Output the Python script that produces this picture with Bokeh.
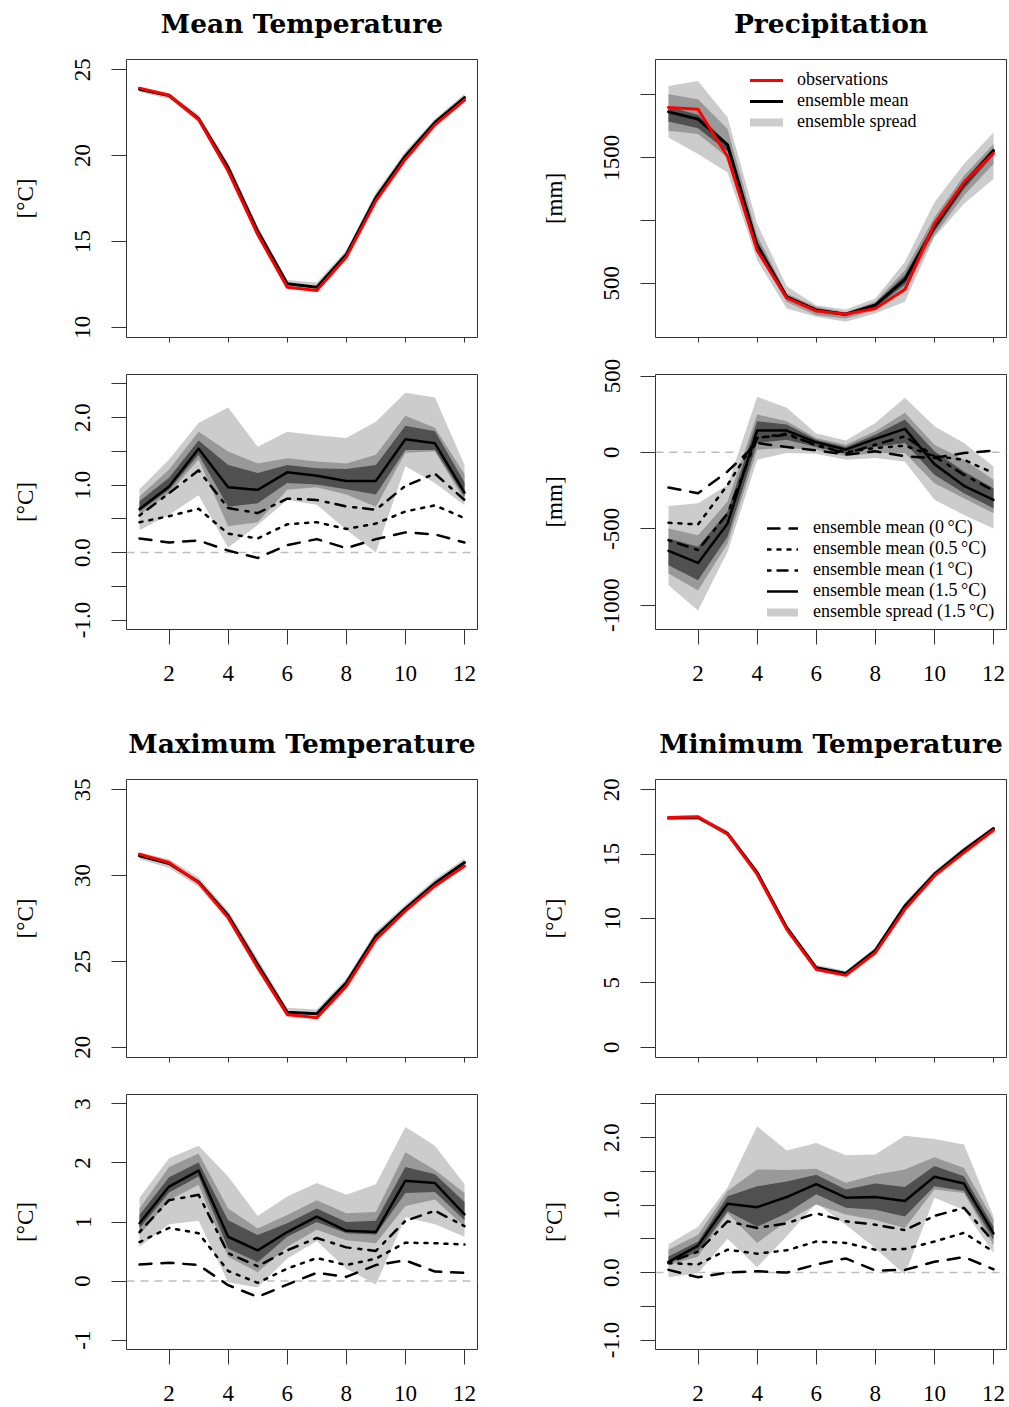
from bokeh.plotting import figure
from bokeh.layouts import column, row
from bokeh.models import Range1d, FixedTicker, Span, Legend, LegendItem
from bokeh.core.properties import value
from bokeh.embed import file_html
from bokeh.resources import INLINE

# ---------------- data ----------------
months = [1, 2, 3, 4, 5, 6, 7, 8, 9, 10, 11, 12]
x_ticks = [2, 4, 6, 8, 10, 12]
x_labels = ["2", "4", "6", "8", "10", "12"]

titles = ["Mean Temperature", "Precipitation", "Maximum Temperature", "Minimum Temperature"]
unit_c = "[°C]"
unit_mm = "[mm]"

# Mean temperature climatology
tmean_obs = [23.93, 23.52, 22.10, 19.10, 15.40, 12.33, 12.14, 14.09, 17.36, 19.79, 21.79, 23.23]
tmean_ens = [23.87, 23.50, 22.15, 19.30, 15.60, 12.53, 12.33, 14.24, 17.55, 19.98, 21.93, 23.38]
tmean_lo = [23.70, 23.30, 21.95, 19.05, 15.35, 12.30, 12.12, 14.05, 17.30, 19.75, 21.75, 23.20]
tmean_hi = [24.00, 23.65, 22.40, 19.60, 15.90, 12.75, 12.60, 14.50, 17.85, 20.25, 22.15, 23.60]
# Mean temperature change
tmean_d00 = [0.21, 0.15, 0.18, 0.03, -0.08, 0.11, 0.20, 0.065, 0.20, 0.30, 0.27, 0.15]
tmean_d05 = [0.45, 0.54, 0.65, 0.28, 0.21, 0.42, 0.45, 0.35, 0.43, 0.61, 0.70, 0.51]
tmean_d10 = [0.55, 0.88, 1.22, 0.66, 0.585, 0.80, 0.78, 0.685, 0.635, 0.99, 1.17, 0.78]
tmean_d15 = [0.645, 0.98, 1.54, 0.97, 0.93, 1.19, 1.14, 1.06, 1.06, 1.68, 1.62, 0.89]
tmean_out_lo = [0.33, 0.56, 0.85, 0.07, 0.41, 0.78, 0.71, 0.34, 0.00, 1.28, 1.03, 0.70]
tmean_out_hi = [0.94, 1.38, 1.92, 2.15, 1.57, 1.79, 1.74, 1.70, 1.94, 2.37, 2.30, 1.30]
tmean_mid_lo = [0.56, 0.88, 1.38, 0.39, 0.45, 0.93, 0.97, 0.86, 0.68, 1.48, 1.50, 0.78]
tmean_mid_hi = [0.83, 1.23, 1.79, 1.50, 1.32, 1.40, 1.35, 1.32, 1.45, 2.03, 1.85, 1.16]
tmean_dk_lo = [0.61, 0.93, 1.45, 0.68, 0.73, 1.03, 1.01, 0.94, 0.86, 1.52, 1.52, 0.83]
tmean_dk_hi = [0.76, 1.11, 1.66, 1.30, 1.18, 1.30, 1.25, 1.24, 1.30, 1.88, 1.80, 1.04]

# Precipitation climatology
pr_obs = [1899, 1886, 1508, 762, 383, 280, 254, 299, 450, 974, 1304, 1534]
pr_ens = [1865, 1807, 1603, 802, 392, 286, 254, 325, 529, 947, 1291, 1556]
pr_out_lo = [1661, 1529, 1383, 683, 299, 233, 193, 260, 352, 867, 1133, 1331]
pr_out_hi = [2071, 2111, 1820, 974, 476, 325, 291, 379, 669, 1145, 1450, 1701]
pr_mid_lo = [1714, 1688, 1502, 748, 350, 246, 220, 286, 444, 880, 1198, 1450]
pr_mid_hi = [2006, 1966, 1728, 881, 418, 312, 270, 352, 603, 1026, 1357, 1609]
pr_dk_lo = [1788, 1735, 1550, 770, 372, 268, 240, 305, 490, 915, 1250, 1520]
pr_dk_hi = [1905, 1841, 1616, 840, 405, 300, 264, 340, 565, 985, 1320, 1580]
# Precipitation change
pr_d00 = [-230, -268, -125, 61, 35, 13, -15, 7, -26, -37, -4, 11]
pr_d05 = [-461, -472, -213, 94, 123, 44, 0, 29, 44, -26, -48, -136]
pr_d10 = [-575, -640, -400, 94, 116, 50, -9, 50, 105, -26, -147, -250]
pr_d15 = [-645, -724, -465, 143, 143, 66, 18, 88, 154, -77, -219, -311]
pr_c_out_lo = [-871, -1035, -651, -48, -4, -9, -48, -37, -59, -311, -410, -498]
pr_c_out_hi = [-351, -333, -213, 364, 292, 123, 77, 193, 357, 171, 61, -92]
pr_c_mid_lo = [-794, -904, -596, 18, 29, 18, -26, -4, -4, -202, -300, -399]
pr_c_mid_hi = [-498, -542, -322, 248, 204, 94, 50, 138, 259, 50, -48, -180]
pr_c_dk_lo = [-739, -838, -553, 61, 83, 35, -9, 35, 61, -147, -268, -366]
pr_c_dk_hi = [-564, -618, -388, 204, 182, 83, 35, 116, 215, 7, -125, -235]

# Maximum temperature climatology
tmax_obs = [31.25, 30.76, 29.59, 27.55, 24.63, 21.91, 21.71, 23.56, 26.28, 27.94, 29.40, 30.56]
tmax_ens = [31.15, 30.70, 29.63, 27.68, 24.82, 22.04, 21.95, 23.75, 26.48, 28.07, 29.55, 30.76]
tmax_lo = [30.95, 30.45, 29.35, 27.35, 24.50, 21.75, 21.70, 23.50, 26.20, 27.85, 29.35, 30.55]
tmax_hi = [31.35, 30.95, 29.90, 27.95, 25.15, 22.30, 22.20, 24.00, 26.75, 28.30, 29.80, 31.00]
# Maximum temperature change
tmax_d00 = [0.28, 0.31, 0.27, -0.07, -0.27, -0.06, 0.14, 0.07, 0.27, 0.35, 0.16, 0.14]
tmax_d05 = [0.66, 0.90, 0.81, 0.17, -0.03, 0.21, 0.39, 0.27, 0.38, 0.65, 0.64, 0.62]
tmax_d10 = [0.83, 1.37, 1.46, 0.47, 0.25, 0.52, 0.73, 0.57, 0.51, 1.02, 1.19, 0.93]
tmax_d15 = [0.98, 1.60, 1.87, 0.75, 0.52, 0.83, 1.09, 0.85, 0.83, 1.70, 1.66, 1.13]
tmax_out_lo = [0.58, 0.96, 1.02, -0.02, -0.11, 0.38, 0.68, 0.21, -0.06, 1.08, 0.96, 0.75]
tmax_out_hi = [1.41, 2.08, 2.29, 1.77, 1.10, 1.43, 1.66, 1.46, 1.64, 2.61, 2.29, 1.64]
tmax_mid_lo = [0.78, 1.37, 1.63, 0.41, 0.15, 0.58, 0.87, 0.69, 0.64, 1.27, 1.38, 0.92]
tmax_mid_hi = [1.23, 1.93, 2.16, 1.23, 0.89, 1.12, 1.37, 1.15, 1.17, 2.18, 1.88, 1.49]
tmax_dk_lo = [0.89, 1.50, 1.77, 0.55, 0.32, 0.75, 1.00, 0.81, 0.79, 1.49, 1.51, 1.03]
tmax_dk_hi = [1.12, 1.76, 2.01, 1.03, 0.78, 0.98, 1.23, 1.00, 1.02, 1.93, 1.81, 1.34]

# Minimum temperature climatology
tmin_obs = [17.85, 17.90, 16.55, 13.44, 9.16, 6.04, 5.58, 7.34, 10.71, 13.31, 15.12, 16.86]
tmin_ens = [17.80, 17.85, 16.60, 13.57, 9.29, 6.17, 5.73, 7.52, 10.97, 13.44, 15.30, 16.99]
tmin_lo = [17.65, 17.65, 16.40, 13.35, 9.05, 5.95, 5.55, 7.35, 10.75, 13.25, 15.10, 16.80]
tmin_hi = [17.95, 18.05, 16.85, 13.85, 9.55, 6.40, 5.95, 7.75, 11.25, 13.70, 15.55, 17.15]
# Minimum temperature change
tmin_d00 = [0.04, -0.07, 0.00, 0.02, 0.00, 0.12, 0.21, 0.03, 0.04, 0.16, 0.23, 0.05]
tmin_d05 = [0.14, 0.12, 0.34, 0.28, 0.33, 0.46, 0.44, 0.34, 0.35, 0.46, 0.59, 0.31]
tmin_d10 = [0.15, 0.31, 0.76, 0.66, 0.73, 0.88, 0.76, 0.71, 0.63, 0.84, 0.96, 0.46]
tmin_d15 = [0.16, 0.40, 1.02, 0.97, 1.12, 1.31, 1.11, 1.12, 1.06, 1.42, 1.32, 0.58]
tmin_out_lo = [-0.07, -0.01, 0.50, 0.08, 0.54, 1.03, 0.71, 0.36, -0.03, 1.11, 0.93, 0.29]
tmin_out_hi = [0.42, 0.68, 1.26, 2.17, 1.81, 1.92, 1.74, 1.75, 2.03, 1.98, 1.90, 0.83]
tmin_mid_lo = [0.11, 0.24, 0.88, 0.44, 0.76, 1.01, 0.86, 0.78, 0.66, 1.23, 1.18, 0.41]
tmin_mid_hi = [0.34, 0.56, 1.21, 1.53, 1.52, 1.54, 1.33, 1.45, 1.53, 1.71, 1.55, 0.78]
tmin_dk_lo = [0.14, 0.31, 0.91, 0.68, 0.88, 1.16, 0.96, 0.93, 0.83, 1.28, 1.21, 0.49]
tmin_dk_hi = [0.24, 0.46, 1.13, 1.28, 1.35, 1.45, 1.23, 1.32, 1.27, 1.58, 1.43, 0.68]

# axis ticks
yt_tmean = [10, 15, 20, 25]
yl_tmean = ["10", "15", "20", "25"]
yt_tmax = [20, 25, 30, 35]
yl_tmax = ["20", "25", "30", "35"]
yt_tmin = [0, 5, 10, 15, 20]
yl_tmin = ["0", "5", "10", "15", "20"]
yt_pr = [500, 1000, 1500, 2000]
yl_pr = ["500", "", "1500", ""]
yt_prc = [-1000, -500, 0, 500]
yl_prc = ["-1000", "-500", "0", "500"]
yt_dt = [-1, -0.5, 0, 0.5, 1, 1.5, 2, 2.5]
yl_dt = ["-1.0", "", "0.0", "", "1.0", "", "2.0", ""]
yt_dtmax = [-1, 0, 1, 2, 3]
yl_dtmax = ["-1", "0", "1", "2", "3"]

leg_top = ["observations", "ensemble mean", "ensemble spread"]
leg_bot = ["ensemble mean (0\u2009°C)", "ensemble mean (0.5\u2009°C)", "ensemble mean (1\u2009°C)",
           "ensemble mean (1.5\u2009°C)", "ensemble spread (1.5\u2009°C)"]

# ---------------- style ----------------
FONT = "Liberation Serif"
TFONT = "DejaVu Serif"
LIGHT = "#CCCCCC"
MID = "#999999"
DARK = "#505050"
FRAME = "#333333"
XR = (0.56, 12.44)
NAN = float("nan")

COLS = [dict(width=504, left=126, right=27), dict(width=505, left=151, right=3)]


def make_fig(col, height, top, bottom, yr, yt, yl, ylab, xlabels):
    c = COLS[col]
    p = figure(width=c["width"], height=height, x_range=Range1d(*XR), y_range=Range1d(*yr),
               output_backend="svg", toolbar_location=None, title=None,
               min_border_left=c["left"], min_border_right=c["right"],
               min_border_top=top, min_border_bottom=bottom)
    p.xgrid.visible = False
    p.ygrid.visible = False
    p.outline_line_color = FRAME
    p.outline_line_width = 1
    p.background_fill_color = "white"
    p.border_fill_color = "white"
    xa = p.xaxis[0]
    xa.ticker = FixedTicker(ticks=x_ticks)
    xa.major_label_overrides = dict(zip(x_ticks, x_labels))
    xa.axis_line_color = None
    xa.major_tick_line_color = FRAME
    xa.major_tick_in = 0
    xa.minor_tick_line_color = None
    xa.major_label_text_font = FONT
    if xlabels:
        xa.major_tick_out = 15
        xa.major_label_standoff = 21
        xa.major_label_text_font_size = "23px"
        xa.major_label_text_color = "black"
    else:
        xa.major_tick_out = 5
        xa.major_label_standoff = 0
        xa.major_label_text_font_size = "1px"
        xa.major_label_text_color = None
    ya = p.yaxis[0]
    ya.ticker = FixedTicker(ticks=yt)
    ya.major_label_overrides = dict(zip(yt, yl))
    ya.major_label_orientation = "vertical"
    ya.axis_line_color = None
    ya.major_tick_line_color = FRAME
    ya.major_tick_out = 15
    ya.major_tick_in = 0
    ya.minor_tick_line_color = None
    ya.major_label_text_font = FONT
    ya.major_label_text_font_size = "23px"
    ya.major_label_text_color = "black"
    ya.major_label_standoff = 21
    ya.axis_label = ylab
    ya.axis_label_text_font = FONT
    ya.axis_label_text_font_size = "23px"
    ya.axis_label_text_font_style = "normal"
    ya.axis_label_text_color = "black"
    ya.axis_label_standoff = 35
    return p


def title_fig(col, height, text, base):
    c = COLS[col]
    p = figure(width=c["width"], height=height, x_range=Range1d(*XR), y_range=Range1d(0, height),
               output_backend="svg", toolbar_location=None, title=None,
               x_axis_location=None, y_axis_location=None,
               min_border_left=c["left"], min_border_right=c["right"], min_border_top=0, min_border_bottom=0)
    p.grid.visible = False
    p.outline_line_color = None
    p.text(x=[(XR[0] + XR[1]) / 2], y=[height - base], text=[text], y_offset=-10,
           text_font=value(TFONT), text_font_style="bold", text_font_size="26.5px",
           text_align="center", text_baseline="alphabetic", text_color="black")
    return p


def clim(p, lo, hi, ens, obs, bands=None):
    if bands:
        for (blo, bhi), colr in zip(bands, [LIGHT, MID, DARK]):
            p.varea(x=months, y1=blo, y2=bhi, fill_color=colr)
    else:
        p.varea(x=months, y1=lo, y2=hi, fill_color=LIGHT)
    r_ens = p.line(months, ens, line_color="black", line_width=3, line_join="round", line_cap="round")
    r_obs = p.line(months, obs, line_color="red", line_width=3, line_join="round", line_cap="round")
    return r_obs, r_ens


def change(p, bands, d00, d05, d10, d15):
    p.add_layout(Span(location=0, dimension="width", line_color="#BEBEBE", line_dash="8 6",
                      line_width=1.5, level="underlay"))
    for (blo, bhi), colr in zip(bands, [LIGHT, MID, DARK]):
        p.varea(x=months, y1=blo, y2=bhi, fill_color=colr)
    kw = dict(line_color="black", line_width=2.5, line_cap="round", line_join="round")
    r0 = p.line(months, d00, line_dash="12 10", **kw)
    r1 = p.line(months, d05, line_dash="3 7", **kw)
    r2 = p.line(months, d10, line_dash="3 7 10 8", **kw)
    r3 = p.line(months, d15, **kw)
    return r0, r1, r2, r3


def spread_glyph(p):
    # legend-only renderer (no visible data)
    return p.line(x=[NAN], y=[NAN], line_color=LIGHT, line_width=8, line_cap="round")


def add_legend(p, items, loc, gw, standoff):
    lg = Legend(items=items, location=loc, glyph_width=gw, glyph_height=20, label_height=20,
                spacing=0, padding=0, margin=0, label_standoff=standoff,
                border_line_color=None, background_fill_alpha=0,
                label_text_font=FONT, label_text_font_size="18px", label_text_color="black")
    p.add_layout(lg)


# ---------------- panels ----------------
tA0 = title_fig(0, 46, titles[0], 33)
tA1 = title_fig(1, 46, titles[1], 33)

pA0 = make_fig(0, 311, 13, 20, (9.4, 25.6), yt_tmean, yl_tmean, unit_c, False)
clim(pA0, tmean_lo, tmean_hi, tmean_ens, tmean_obs)

pA1 = make_fig(1, 311, 13, 20, (68, 2282), yt_pr, yl_pr, unit_mm, False)
ro, re = clim(pA1, None, None, pr_ens, pr_obs,
              bands=[(pr_out_lo, pr_out_hi), (pr_mid_lo, pr_mid_hi), (pr_dk_lo, pr_dk_hi)])
rs = spread_glyph(pA1)
add_legend(pA1, [LegendItem(label=leg_top[0], renderers=[ro]),
                 LegendItem(label=leg_top[1], renderers=[re]),
                 LegendItem(label=leg_top[2], renderers=[rs])], (95, 205), 33, 14)

bA0 = make_fig(0, 364, 17, 92, (-1.14, 2.64), yt_dt, yl_dt, unit_c, True)
change(bA0, [(tmean_out_lo, tmean_out_hi), (tmean_mid_lo, tmean_mid_hi), (tmean_dk_lo, tmean_dk_hi)],
       tmean_d00, tmean_d05, tmean_d10, tmean_d15)

bA1 = make_fig(1, 364, 17, 92, (-1160, 510), yt_prc, yl_prc, unit_mm, True)
rr = change(bA1, [(pr_c_out_lo, pr_c_out_hi), (pr_c_mid_lo, pr_c_mid_hi), (pr_c_dk_lo, pr_c_dk_hi)],
            pr_d00, pr_d05, pr_d10, pr_d15)
rs2 = spread_glyph(bA1)
add_legend(bA1, [LegendItem(label=leg_bot[i], renderers=[r]) for i, r in enumerate(list(rr) + [rs2])],
           (112, 7), 31, 15)

tB0 = title_fig(0, 45, titles[2], 32)
tB1 = title_fig(1, 45, titles[3], 32)

pB0 = make_fig(0, 311, 13, 20, (19.4, 35.6), yt_tmax, yl_tmax, unit_c, False)
clim(pB0, tmax_lo, tmax_hi, tmax_ens, tmax_obs)

pB1 = make_fig(1, 311, 13, 20, (-0.8, 20.8), yt_tmin, yl_tmin, unit_c, False)
clim(pB1, tmin_lo, tmin_hi, tmin_ens, tmin_obs)

bB0 = make_fig(0, 330, 17, 58, (-1.16, 3.16), yt_dtmax, yl_dtmax, unit_c, True)
change(bB0, [(tmax_out_lo, tmax_out_hi), (tmax_mid_lo, tmax_mid_hi), (tmax_dk_lo, tmax_dk_hi)],
       tmax_d00, tmax_d05, tmax_d10, tmax_d15)

bB1 = make_fig(1, 330, 17, 58, (-1.14, 2.64), yt_dt, yl_dt, unit_c, True)
change(bB1, [(tmin_out_lo, tmin_out_hi), (tmin_mid_lo, tmin_mid_hi), (tmin_dk_lo, tmin_dk_hi)],
       tmin_d00, tmin_d05, tmin_d10, tmin_d15)

layout = column(row(tA0, tA1), row(pA0, pA1), row(bA0, bA1),
                row(tB0, tB1), row(pB0, pB1), row(bB0, bB1))

open("out.html", "w").write(file_html(layout, INLINE))
